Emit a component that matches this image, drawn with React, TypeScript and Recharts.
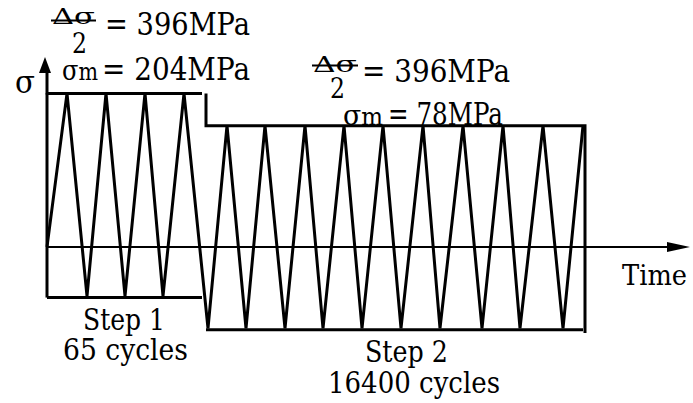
import { Line, LineChart, XAxis, YAxis } from "recharts";

type Pt = { t: number; s: number };

// loading blocks (MPa)
const stepLabels = ["Step 1", "Step 2"];
const stepCycles = ["65 cycles", "16400 cycles"];
const stepAmplitude = [396, 396];
const stepMean = [204, 78];

// time of each block and of each load reversal (arbitrary time units)
const stepStart = [47, 206];
const stepEnd = [202, 585];
const step1Reversals = [67, 87, 106, 125, 145, 163, 184];
const step2Reversals = [208, 227, 246, 265, 285, 305, 323, 344, 362, 383, 401, 423, 440, 463, 482, 503, 520, 543, 563, 583];

const W = 693;
const H = 403;
const xDomain = [0, W];
const yDomain = [-610, 965];
const timeAxisEnd = 690;
const stressAxisTop = 742;
const lowerGap = 6;

const stepMax = stepMean.map((m, i) => m + stepAmplitude[i]);
const stepMin = stepMean.map((m, i) => m - stepAmplitude[i]);

const waveData: Pt[] = [
  { t: stepStart[0], s: 0 },
  ...step1Reversals.map((t, i) => ({ t, s: i % 2 === 0 ? stepMax[0] : stepMin[0] })),
  ...step2Reversals.map((t, i) => ({ t, s: i % 2 === 0 ? stepMin[1] : stepMax[1] })),
];

const step1Top: Pt[] = [
  { t: stepStart[0], s: stepMax[0] },
  { t: stepEnd[0], s: stepMax[0] },
];
const step1Bottom: Pt[] = [
  { t: stepStart[0], s: stepMin[0] - lowerGap },
  { t: stepEnd[0], s: stepMin[0] - lowerGap },
];
const step2Top: Pt[] = [
  { t: stepStart[1], s: stepMax[0] },
  { t: stepStart[1], s: stepMax[1] },
  { t: stepEnd[1], s: stepMax[1] },
  { t: stepEnd[1], s: stepMin[1] - 18 },
];
const step2Bottom: Pt[] = [
  { t: stepStart[1], s: stepMin[1] - lowerGap },
  { t: stepEnd[1] - 2, s: stepMin[1] - lowerGap },
];
const timeAxis: Pt[] = [
  { t: stepStart[0], s: 0 },
  { t: timeAxisEnd - 22, s: 0 },
];
const timeArrow: Pt[] = [{ t: timeAxisEnd, s: 0 }];
const stressAxis: Pt[] = [
  { t: stepStart[0], s: stepMin[0] - lowerGap },
  { t: stepStart[0], s: stepMax[0] },
];

// the σ axis head sits above the plotted data, place it with the same linear mapping
const toX = (t: number) => (W * (t - xDomain[0])) / (xDomain[1] - xDomain[0]);
const toY = (s: number) => (H * (yDomain[1] - s)) / (yDomain[1] - yDomain[0]);

const font = '"DejaVu Serif", serif';

const RightArrow = (p: any) => (
  <polygon key="ra" points={`${p.cx},${p.cy} ${p.cx - 23},${p.cy - 5} ${p.cx - 23},${p.cy + 5}`} fill="#000" />
);

const Txt = ({ size, children, ...rest }: any) => (
  <text {...rest} fill="#000" lengthAdjust="spacingAndGlyphs" style={{ fontFamily: font, fontSize: size }}>
    {children}
  </text>
);

const lineProps = {
  dataKey: "s",
  stroke: "#000",
  dot: false,
  activeDot: false,
  isAnimationActive: false,
  legendType: "none" as const,
};

export default function App() {
  const ax = toX(stepStart[0]);
  const ay = toY(stressAxisTop);
  return (
    <div style={{ position: "absolute", left: 0, top: 0, width: W, height: H, background: "#fff" }}>
      <LineChart width={W} height={H} margin={{ top: 0, right: 0, bottom: 0, left: 0 }}>
        <XAxis type="number" dataKey="t" domain={xDomain} hide allowDataOverflow />
        <YAxis type="number" dataKey="s" domain={yDomain} hide allowDataOverflow />
        <Line {...lineProps} data={timeAxis} strokeWidth={2} />
        <Line {...lineProps} data={stressAxis} strokeWidth={3} />
        <Line {...lineProps} data={step1Top} strokeWidth={3} />
        <Line {...lineProps} data={step1Bottom} strokeWidth={3} />
        <Line {...lineProps} data={step2Top} strokeWidth={3} />
        <Line {...lineProps} data={step2Bottom} strokeWidth={3} />
        <Line {...lineProps} data={waveData} strokeWidth={3} />
        <Line {...lineProps} data={timeArrow} stroke="none" dot={RightArrow} />

        <g>
          {/* step 1 annotations */}
          <Txt x={52} y={24} size={22} textLength={43}>Δσ</Txt>
          <line x1={51} x2={96} y1={20.5} y2={20.5} stroke="#000" strokeWidth={2} />
          <Txt x={72} y={53} size={28} textLength={15}>2</Txt>
          <Txt x={105} y={35} size={31} textLength={145}>{`= ${stepAmplitude[0]}MPa`}</Txt>
          <Txt x={62} y={80} size={28} textLength={36}>
            σ<tspan style={{ fontSize: 24 }}>m</tspan>
          </Txt>
          <Txt x={102} y={80} size={31} textLength={148}>{`= ${stepMean[0]}MPa`}</Txt>

          {/* step 2 annotations */}
          <Txt x={313} y={72} size={22} textLength={44}>Δσ</Txt>
          <line x1={312} x2={358} y1={65.5} y2={65.5} stroke="#000" strokeWidth={2} />
          <Txt x={330} y={98} size={28} textLength={15}>2</Txt>
          <Txt x={362} y={82} size={31} textLength={148}>{`= ${stepAmplitude[1]}MPa`}</Txt>
          <Txt x={343} y={125} size={28} textLength={40}>
            σ<tspan style={{ fontSize: 24 }}>m</tspan>
          </Txt>
          <Txt x={388} y={125} size={31} textLength={115}>{`= ${stepMean[1]}MPa`}</Txt>

          <Txt x={15} y={93} size={31} textLength={20}>σ</Txt>
          <Txt x={622} y={285} size={28} textLength={65}>Time</Txt>

          <Txt x={83} y={330} size={30} textLength={82}>{stepLabels[0]}</Txt>
          <Txt x={63} y={360} size={30} textLength={125}>{stepCycles[0]}</Txt>
          <Txt x={365} y={362} size={30} textLength={83}>{stepLabels[1]}</Txt>
          <Txt x={328} y={393} size={30} textLength={172}>{stepCycles[1]}</Txt>
        </g>
      </LineChart>
      {/* σ axis top and arrow head, layered over the chart */}
      <svg width={W} height={H} style={{ position: "absolute", left: 0, top: 0, pointerEvents: "none" }}>
        <line x1={ax} x2={ax} y1={toY(stepMax[0]) + 1} y2={ay + 14} stroke="#000" strokeWidth={3} />
        <polygon points={`${ax - 2},${ay} ${ax - 8},${ay + 16} ${ax + 4},${ay + 16}`} fill="#000" />
      </svg>
    </div>
  );
}
